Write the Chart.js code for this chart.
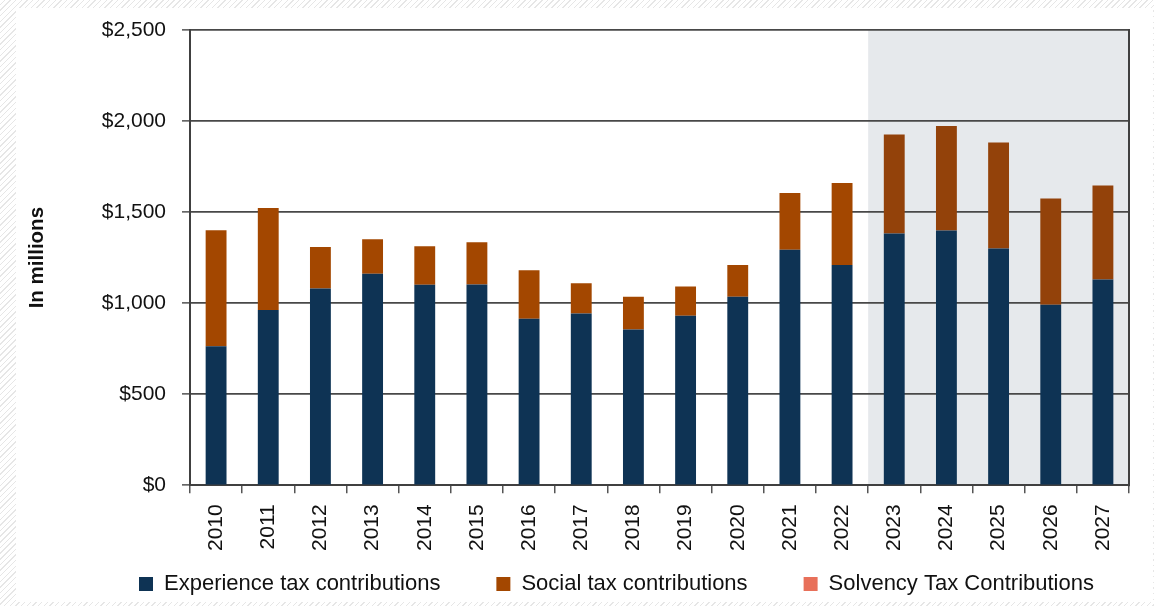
<!DOCTYPE html>
<html><head><meta charset="utf-8">
<script src="https://cdn.jsdelivr.net/npm/chart.js@4.4.1/dist/chart.umd.min.js"></script>
<style>
html,body{margin:0;padding:0;}
body{width:1154px;height:606px;overflow:hidden;position:relative;background:repeating-linear-gradient(135deg,#ffffff 0px,#ffffff 3px,#e6e6e6 3px,#e6e6e6 4px);}
#panel{position:absolute;left:16px;top:8px;width:1137px;height:594px;background:#fff;}
#wrap{position:absolute;left:0;top:0;width:1154px;height:606px;}
</style></head><body>
<div id="panel"></div>
<div id="wrap"><canvas id="c" width="1154" height="606"></canvas></div>
<script>
const categories = ['2010','2011','2012','2013','2014','2015','2016','2017','2018','2019','2020','2021','2022','2023','2024','2025','2026','2027'];
const experienceTax = [763, 962, 1081, 1161, 1101, 1103, 914, 944, 856, 931, 1035, 1293, 1210, 1383, 1399, 1300, 991, 1130];
const socialTax = [638, 561, 227, 190, 212, 232, 267, 166, 179, 161, 174, 312, 450, 543, 574, 582, 584, 516];
const solvencyTax = [0, 0, 0, 0, 0, 0, 0, 0, 0, 0, 0, 0, 0, 0, 0, 0, 0, 0];
const yTickValues = [0, 500, 1000, 1500, 2000, 2500];
const seriesNames = ['Experience tax contributions', 'Social tax contributions', 'Solvency Tax Contributions'];
const forecastStart = '2023';

const FONT = "'Liberation Sans', Arial, sans-serif";
const forecastIndex = categories.indexOf(forecastStart);
const LEGEND_FONT = 22;
const LEGEND_PAD = 56;

const framePlugin = {
  id: 'frame',
  afterLayout(chart) {
    const lg = chart.legend;
    if (lg && lg.lineWidths) {
      const P = lg.options.labels.padding;
      lg.left = 0;
      lg.right = 2 * 139 - P + lg.lineWidths[0];
      lg.width = lg.right - lg.left;
      lg.top = 584 - LEGEND_FONT / 2 - P;
      lg.height = LEGEND_FONT + P + 10;
      lg.bottom = lg.top + lg.height;
    }
  },
  beforeDraw(chart) {
    const {ctx, chartArea: a, scales: {x}} = chart;
    const half = (x.getPixelForValue(1) - x.getPixelForValue(0)) / 2;
    const x0 = x.getPixelForValue(forecastIndex) - half;
    ctx.save();
    ctx.fillStyle = '#e6e9ec';
    ctx.fillRect(x0, a.top, a.right - x0, a.bottom - a.top);
    ctx.restore();
  },
  afterDraw(chart) {
    const {ctx, chartArea: a} = chart;
    ctx.save();
    ctx.strokeStyle = '#404040';
    ctx.lineWidth = 2;
    ctx.beginPath();
    ctx.moveTo(a.right, a.top - 1);
    ctx.lineTo(a.right, a.bottom + 1);
    ctx.stroke();
    ctx.restore();
  }
};

new Chart(document.getElementById('c'), {
  type: 'bar',
  data: {
    labels: categories,
    datasets: [
      { label: seriesNames[0], data: experienceTax, backgroundColor: '#0e3354' },
      { label: seriesNames[1], data: socialTax,
        backgroundColor: (c) => (c.dataIndex !== undefined && c.dataIndex >= forecastIndex) ? '#93420a' : '#a34700' },
      { label: seriesNames[2], data: solvencyTax, backgroundColor: '#e8705a' }
    ]
  },
  options: {
    responsive: false,
    animation: false,
    devicePixelRatio: 1,
    layout: { padding: { top: 30, right: 25, bottom: 1, left: 0 } },
    datasets: { bar: { categoryPercentage: 1, barPercentage: 0.4, borderWidth: 0 } },
    plugins: {
      tooltip: { enabled: false },
      legend: {
        position: 'bottom',
        align: 'center',
        maxHeight: 40,
        labels: {
          boxWidth: 14, boxHeight: 14, padding: LEGEND_PAD,
          color: '#111',
          font: { family: FONT, size: LEGEND_FONT }
        }
      }
    },
    scales: {
      x: {
        stacked: true,
        afterFit(s) { s.height = 79.7; },
        grid: { drawOnChartArea: false, drawTicks: true, tickLength: 8, color: '#555', lineWidth: 1.5, offset: true },
        border: { display: true, color: '#404040', width: 2 },
        ticks: { autoSkip: false, minRotation: 90, maxRotation: 90, padding: 11, color: '#111', font: { family: FONT, size: 21 } }
      },
      y: {
        stacked: true,
        min: 0, max: 2500,
        afterFit(s) { s.width = 190; },
        afterBuildTicks(s) { s.ticks = yTickValues.map(v => ({ value: v })); },
        grid: { color: '#484848', lineWidth: 1.7, tickLength: 8, tickColor: '#666' },
        border: { display: true, color: '#404040', width: 2 },
        ticks: { padding: 16, color: '#111', font: { family: FONT, size: 21 },
          callback: (v) => '$' + Number(v).toLocaleString('en-US') },
        title: { display: true, text: 'In millions', color: '#111', padding: { top: 25, bottom: 0 },
          font: { family: FONT, size: 20.5, weight: 'bold' } }
      }
    }
  },
  plugins: [framePlugin]
});
</script>
</body></html>
